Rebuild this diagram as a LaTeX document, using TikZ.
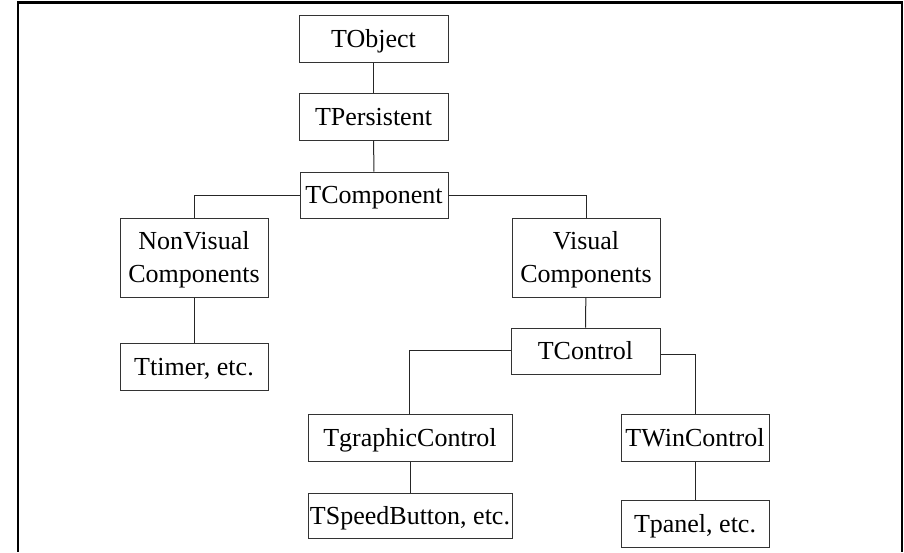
\documentclass[tikz,border=0pt]{standalone}
\usepackage{fontspec}
\setmainfont{Liberation Serif}
\begin{document}
\begin{tikzpicture}[x=1pt,y=-1pt,
  cls/.style={draw=black!80, line width=1pt, rectangle, inner sep=0pt, align=center,
    text height=20pt, text depth=3pt,
    font=\fontsize{26}{33}\selectfont},
  cls2/.style={cls, text height=53pt},
  link/.style={draw=black!85, line width=1pt}]
\useasboundingbox (0,0) rectangle (904,552);
% frame
\draw[line width=3pt] (17,2.5) -- (903,2.5);
\draw[line width=2pt] (18,1) -- (18,552);
\draw[line width=2pt] (902,1) -- (902,552);
% nodes
\node[cls, minimum width=149, minimum height=47] (tobj) at (373.5,38.5) {TObject};
\node[cls, minimum width=149, minimum height=47] (tpers) at (373.5,116.5) {TPersistent};
\node[cls, minimum width=148, minimum height=46] (tcomp) at (374,195) {TComponent};
\node[cls2, minimum width=148, minimum height=79] (nonvis) at (194,257.5) {NonVisual\\Components};
\node[cls2, minimum width=148, minimum height=79] (vis) at (586,257.5) {Visual\\Components};
\node[cls, minimum width=148, minimum height=47] (ttimer) at (194,366.5) {Ttimer, etc.};
\node[cls, minimum width=149, minimum height=46] (tctrl) at (585.5,351) {TControl};
\node[cls, minimum width=204, minimum height=47] (tgraph) at (410,437.5) {TgraphicControl};
\node[cls, minimum width=204, minimum height=45] (tspeed) at (410,515.5) {TSpeedButton, etc.};
\node[cls, minimum width=148, minimum height=47] (twin) at (695,437.5) {TWinControl};
\node[cls, minimum width=148, minimum height=47] (tpanel) at (695,523.5) {Tpanel, etc.};
% connectors
\draw[link] (tobj) -- (tpers);
\draw[link] (tpers) -- (tcomp);
\draw[link] (tcomp.west) -| (nonvis.north);
\draw[link] (tcomp.east) -| (vis.north);
\draw[link] (nonvis) -- (ttimer);
\draw[link] (vis) -- (tctrl);
\draw[link] ([yshift=1]tctrl.west) -| ([xshift=-1]tgraph.north);
\draw[link] ([yshift=-3]tctrl.east) -| (twin.north);
\draw[link] (tgraph) -- (tspeed);
\draw[link] (twin) -- (tpanel);
\end{tikzpicture}
\end{document}
